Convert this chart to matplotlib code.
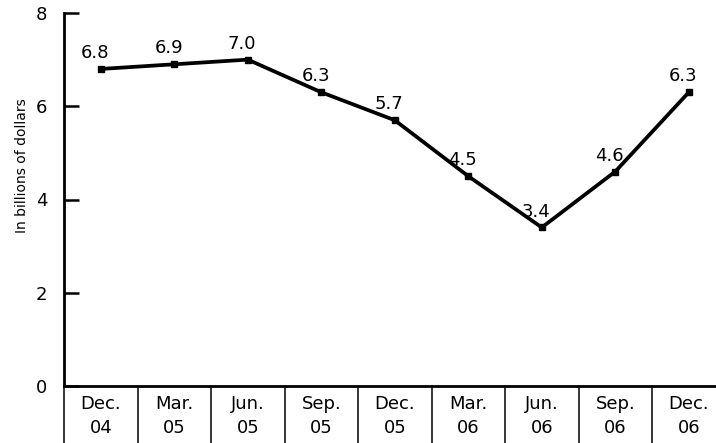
import numpy as np
import matplotlib.pyplot as plt
from matplotlib.transforms import blended_transform_factory

quarters = ["Dec.\n04", "Mar.\n05", "Jun.\n05", "Sep.\n05", "Dec.\n05",
            "Mar.\n06", "Jun.\n06", "Sep.\n06", "Dec.\n06"]
values = [6.8, 6.9, 7.0, 6.3, 5.7, 4.5, 3.4, 4.6, 6.3]
y_ticks = [0, 2, 4, 6, 8]

plt.rcParams['font.family'] = ['DejaVu Sans']

fig = plt.figure(figsize=(7.16, 4.43), dpi=100)
ax = fig.add_axes([64 / 716, 57 / 443, 1 - 64 / 716, 373 / 443])

x = np.arange(len(values))
ax.plot(x, values, color='black', linewidth=2.7, marker='s', markersize=4.5,
        solid_joinstyle='miter', zorder=3)

# etykiety wartosci nad punktami
for xi, v in zip(x, values):
    ax.annotate(f"{v:.1f}", (xi, v), xytext=(-4, 5), textcoords='offset points',
                ha='center', va='bottom', fontsize=13)

ax.set_xlim(-0.5, 8.37)
ax.set_ylim(0, 8)
ax.set_yticks(y_ticks)
ax.set_xticks([])
ax.tick_params(axis='y', direction='in', length=11, width=1.8, pad=12,
               labelsize=13)
for s in ['top', 'right']:
    ax.spines[s].set_visible(False)
ax.spines['left'].set_linewidth(2)
ax.spines['bottom'].set_linewidth(2)

ax.set_ylabel("In billions of dollars", fontsize=10, labelpad=5, y=0.59)

# podpisy kwartalow i przegrody pod osia
trans = blended_transform_factory(ax.transData, ax.transAxes)
for i in range(len(quarters) + 1):
    ax.plot([i - 0.5, i - 0.5], [0, -0.2], color='black', linewidth=1.1,
            transform=trans, clip_on=False)
for i, q in enumerate(quarters):
    ax.text(i, -0.025, q, transform=trans, ha='center', va='top',
            fontsize=13, linespacing=1.4)

fig.savefig("out.png", dpi=100)
